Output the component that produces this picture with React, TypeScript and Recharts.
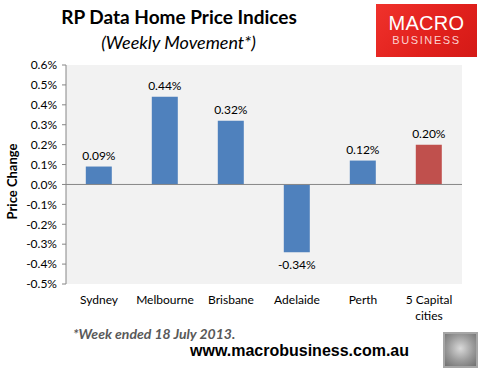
import { BarChart, Bar, XAxis, YAxis, CartesianGrid, ReferenceLine, LabelList, Cell } from 'recharts';

const CITIES = ['Sydney', 'Melbourne', 'Brisbane', 'Adelaide', 'Perth', '5 Capital cities'];
const CHANGE = [0.09, 0.44, 0.32, -0.34, 0.12, 0.2];
const Y_TICKS = [-0.5, -0.4, -0.3, -0.2, -0.1, 0, 0.1, 0.2, 0.3, 0.4, 0.5, 0.6];

const BLUE = '#4f81bd';
const RED = '#c0504d';
const FONT = 'Lato, "Open Sans", sans-serif';

const data = CITIES.map((name, i) => ({ name, change: CHANGE[i] }));

// value labels sit above positive bars and below negative ones
const ValueLabel = (props: any) => {
  const { x, y, width, height, value } = props;
  const top = Math.min(y, y + height);
  const bottom = Math.max(y, y + height);
  const ty = value >= 0 ? top - 7 : bottom + 17;
  return (
    <text x={x + width / 2} y={ty} textAnchor="middle" fontSize={12} fill="#000" fontFamily={FONT}>
      {value.toFixed(2)}%
    </text>
  );
};

// category names wrap onto two lines like Excel does
const CityTick = (props: any) => {
  const { x, y, payload } = props;
  const words: string[] = payload.value === '5 Capital cities' ? ['5 Capital', 'cities'] : [payload.value];
  return (
    <text x={x} y={y} textAnchor="middle" fontSize={12} fill="#000" fontFamily={FONT}>
      {words.map((w, i) => (
        <tspan key={i} x={x} dy={i === 0 ? 12 : 16}>{w}</tspan>
      ))}
    </text>
  );
};

export default function App() {
  return (
    <div style={{ position: 'absolute', left: 0, top: 0, width: 489, height: 374, background: '#fff', fontFamily: FONT }}>
      <div style={{ position: 'absolute', left: 0, width: 358, top: 5, textAlign: 'center', fontSize: 19, fontWeight: 700, color: '#000' }}>
        RP Data Home Price Indices
      </div>
      <div style={{ position: 'absolute', left: 0, width: 357, top: 31, textAlign: 'center', fontSize: 18, fontStyle: 'italic', color: '#000' }}>
        (Weekly Movement*)
      </div>

      <div style={{
        position: 'absolute', left: 376, top: 4, width: 101, height: 53,
        background: 'linear-gradient(135deg, #f0322c 0%, #e0201c 60%, #d41a17 100%)',
        color: '#fff', textAlign: 'center', fontFamily: '"Liberation Sans", Arial, sans-serif'
      }}>
        <div style={{ marginTop: 9, fontSize: 20, letterSpacing: 0.3, lineHeight: '20px' }}>MACRO</div>
        <div style={{ fontSize: 11, letterSpacing: 1.6, lineHeight: '15px', color: '#fbd2d0' }}>BUSINESS</div>
      </div>

      <BarChart width={489} height={374} data={data} margin={{ top: 65, right: 27, bottom: 60, left: 0 }} barCategoryGap="30%">
        <CartesianGrid horizontal={false} vertical={false} fill="#f2f2f2" />
        <XAxis dataKey="name" axisLine={false} tickLine={false} tick={<CityTick />} interval={0} height={30} />
        <YAxis
          width={66}
          domain={[-0.5, 0.6]}
          ticks={Y_TICKS}
          interval={0}
          tickFormatter={(v: number) => `${v.toFixed(1)}%`}
          tick={{ fontSize: 12, fill: '#000', fontFamily: FONT }}
          axisLine={{ stroke: '#868686' }}
          tickLine={{ stroke: '#868686' }}
          tickSize={4}
          tickMargin={5}
          label={{ value: 'Price Change', angle: -90, position: 'insideLeft', offset: 12, dy: 7, style: { fontSize: 13, fontWeight: 700, fill: '#000', fontFamily: FONT, textAnchor: 'middle' } }}
        />
        <ReferenceLine y={0} stroke="#868686" />
        <Bar dataKey="change" isAnimationActive={false}>
          {data.map((d, i) => (
            <Cell key={d.name} fill={i === data.length - 1 ? RED : BLUE} />
          ))}
          <LabelList dataKey="change" content={<ValueLabel />} />
        </Bar>
      </BarChart>

      <div style={{ position: 'absolute', left: 73, top: 325, fontSize: 14, fontWeight: 700, fontStyle: 'italic', color: '#595959' }}>
        *Week ended 18 July 2013.
      </div>
      <div style={{ position: 'absolute', left: 190, top: 342, fontSize: 16, fontWeight: 700, color: '#000', fontFamily: '"Liberation Sans", Arial, sans-serif' }}>
        www.macrobusiness.com.au
      </div>
      <div style={{ position: 'absolute', left: 443, top: 332, width: 31, height: 32, border: '2px solid #a6a6a6', background: 'radial-gradient(circle at 50% 45%, #d9d9d9 0%, #9a9a9a 55%, #707070 100%)' }} />
    </div>
  );
}
